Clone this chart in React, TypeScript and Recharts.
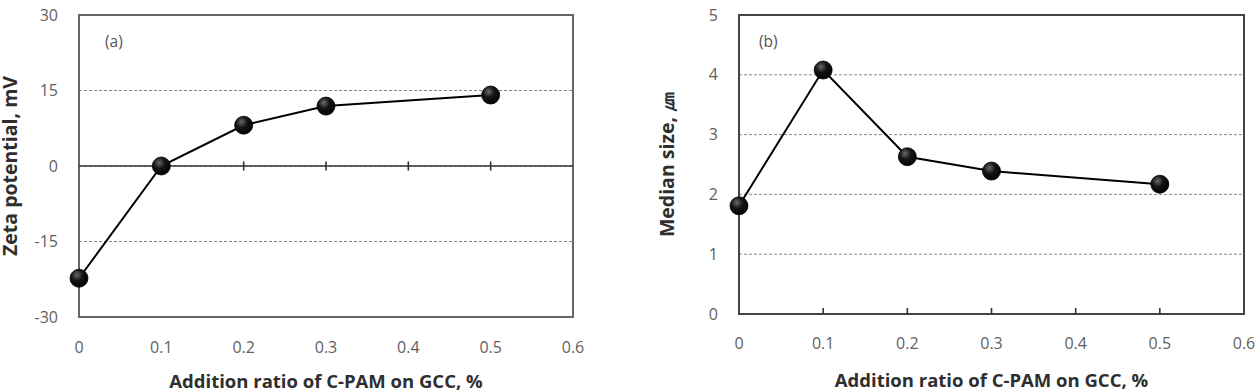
import React from "react";
import {
  LineChart,
  Line,
  XAxis,
  YAxis,
  CartesianGrid,
  ReferenceLine,
  ReferenceArea,
  Label,
} from "recharts";

// Addition ratio of C-PAM on GCC (%)
const additionRatio = [0, 0.1, 0.2, 0.3, 0.5];
// (a) Zeta potential, mV
const zetaPotential = [-22.3, 0, 8.1, 11.9, 14.1];
// (b) Median particle size, µm
const medianSize = [1.81, 4.08, 2.63, 2.39, 2.17];

const xTicks = [0, 0.1, 0.2, 0.3, 0.4, 0.5, 0.6];
const zetaTicks = [-30, -15, 0, 15, 30];
const sizeTicks = [0, 1, 2, 3, 4, 5];

const zetaData = additionRatio.map((x, i) => ({ x, y: zetaPotential[i] }));
const sizeData = additionRatio.map((x, i) => ({ x, y: medianSize[i] }));

const FONT = "'Open Sans', 'Noto Sans', sans-serif";
const tickStyle = { fill: "#5f5f5f", fontSize: 16, fontFamily: FONT };
const xTitleProps = { fill: "#2e2e2e", fontSize: 18.5, fontWeight: 700, fontFamily: FONT };
const yTitleProps = { fill: "#2e2e2e", fontSize: 19.5, fontWeight: 700, fontFamily: FONT };
const fmtX = (v: number) => String(+v.toFixed(1));

const Marker = (props: any) => {
  const { cx, cy, gid } = props;
  if (cx == null || cy == null) return null;
  return <circle cx={cx} cy={cy} r={9} fill={`url(#${gid})`} stroke="#000" strokeWidth={0.8} />;
};

const Gradient = ({ id }: { id: string }) => (
  <defs>
    <radialGradient id={id} cx="38%" cy="32%" r="70%">
      <stop offset="0%" stopColor="#6a6a6a" />
      <stop offset="45%" stopColor="#151515" />
      <stop offset="100%" stopColor="#000" />
    </radialGradient>
  </defs>
);

function ZetaChart() {
  return (
    <LineChart
      width={620}
      height={392}
      data={zetaData}
      margin={{ top: 15, right: 47, bottom: 0, left: 0 }}
    >
      <Gradient id="markA" />
      <CartesianGrid vertical={false} stroke="#8a8a8a" strokeDasharray="3 2" />
      <XAxis
        dataKey="x"
        type="number"
        domain={[0, 0.6]}
        ticks={xTicks}
        tickFormatter={fmtX}
        axisLine={false}
        tickLine={false}
        tickSize={0}
        tickMargin={25}
        height={75}
        tick={tickStyle}
      >
        <Label
          value="Addition ratio of C-PAM on GCC, %"
          position="insideBottom"
          offset={4}
          {...xTitleProps}
        />
      </XAxis>
      <YAxis
        type="number"
        domain={[-30, 30]}
        ticks={zetaTicks}
        axisLine={false}
        tickLine={false}
        tickSize={0}
        tickMargin={21}
        width={79}
        tick={tickStyle}
      >
        <Label
          value="Zeta potential, mV"
          angle={-90}
          position="insideLeft"
          offset={10.5}
          {...yTitleProps}
          textAnchor="middle"
        />
      </YAxis>
      <ReferenceLine y={0} stroke="#333" strokeWidth={1.6} />
      {xTicks.slice(1, 6).map((t) => (
        <ReferenceLine
          key={t}
          segment={[
            { x: t, y: -0.9 },
            { x: t, y: 0.9 },
          ]}
          stroke="#333"
          strokeWidth={1.6}
        />
      ))}
      <ReferenceArea x1={0} x2={0.6} y1={-30} y2={30} fill="none" stroke="#666" strokeWidth={2} />
      <Line
        dataKey="y"
        stroke="#000"
        strokeWidth={2}
        isAnimationActive={false}
        dot={<Marker gid="markA" />}
      />
      <text x={105} y={47} fill="#555" fontSize={15.5} fontFamily={FONT}>
        (a)
      </text>
    </LineChart>
  );
}

function SizeChart() {
  return (
    <LineChart
      width={620}
      height={392}
      data={sizeData}
      margin={{ top: 15, right: 16, bottom: 0, left: 0 }}
    >
      <Gradient id="markB" />
      <CartesianGrid vertical={false} stroke="#8a8a8a" strokeDasharray="3 2" />
      <XAxis
        dataKey="x"
        type="number"
        domain={[0, 0.6]}
        ticks={xTicks}
        tickFormatter={fmtX}
        axisLine={false}
        tickLine={false}
        tickSize={0}
        tickMargin={23.5}
        height={78}
        tick={tickStyle}
      >
        <Label
          value="Addition ratio of C-PAM on GCC, %"
          position="insideBottom"
          offset={5}
          {...xTitleProps}
        />
      </XAxis>
      <YAxis
        type="number"
        domain={[0, 5]}
        ticks={sizeTicks}
        axisLine={false}
        tickLine={false}
        tickSize={0}
        tickMargin={21}
        width={99}
        tick={tickStyle}
      >
        <Label
          value="Median size, ㎛"
          angle={-90}
          position="insideLeft"
          offset={27}
          {...yTitleProps}
          textAnchor="middle"
        />
      </YAxis>
      {xTicks.slice(1, 6).map((t) => (
        <ReferenceLine
          key={t}
          segment={[
            { x: t, y: 0 },
            { x: t, y: 0.1 },
          ]}
          stroke="#333"
          strokeWidth={1.6}
        />
      ))}
      <ReferenceArea x1={0} x2={0.6} y1={0} y2={5} fill="none" stroke="#444" strokeWidth={2} />
      <Line
        dataKey="y"
        stroke="#000"
        strokeWidth={2}
        isAnimationActive={false}
        dot={<Marker gid="markB" />}
      />
      <text x={119} y={47} fill="#555" fontSize={15.5} fontFamily={FONT}>
        (b)
      </text>
    </LineChart>
  );
}

export default function App() {
  return (
    <div
      style={{
        position: "fixed",
        left: 0,
        top: 0,
        width: 1260,
        height: 392,
        background: "#fff",
        overflow: "hidden",
      }}
    >
      <div style={{ position: "absolute", left: 0, top: 0 }}>
        <ZetaChart />
      </div>
      <div style={{ position: "absolute", left: 640, top: 0 }}>
        <SizeChart />
      </div>
    </div>
  );
}
